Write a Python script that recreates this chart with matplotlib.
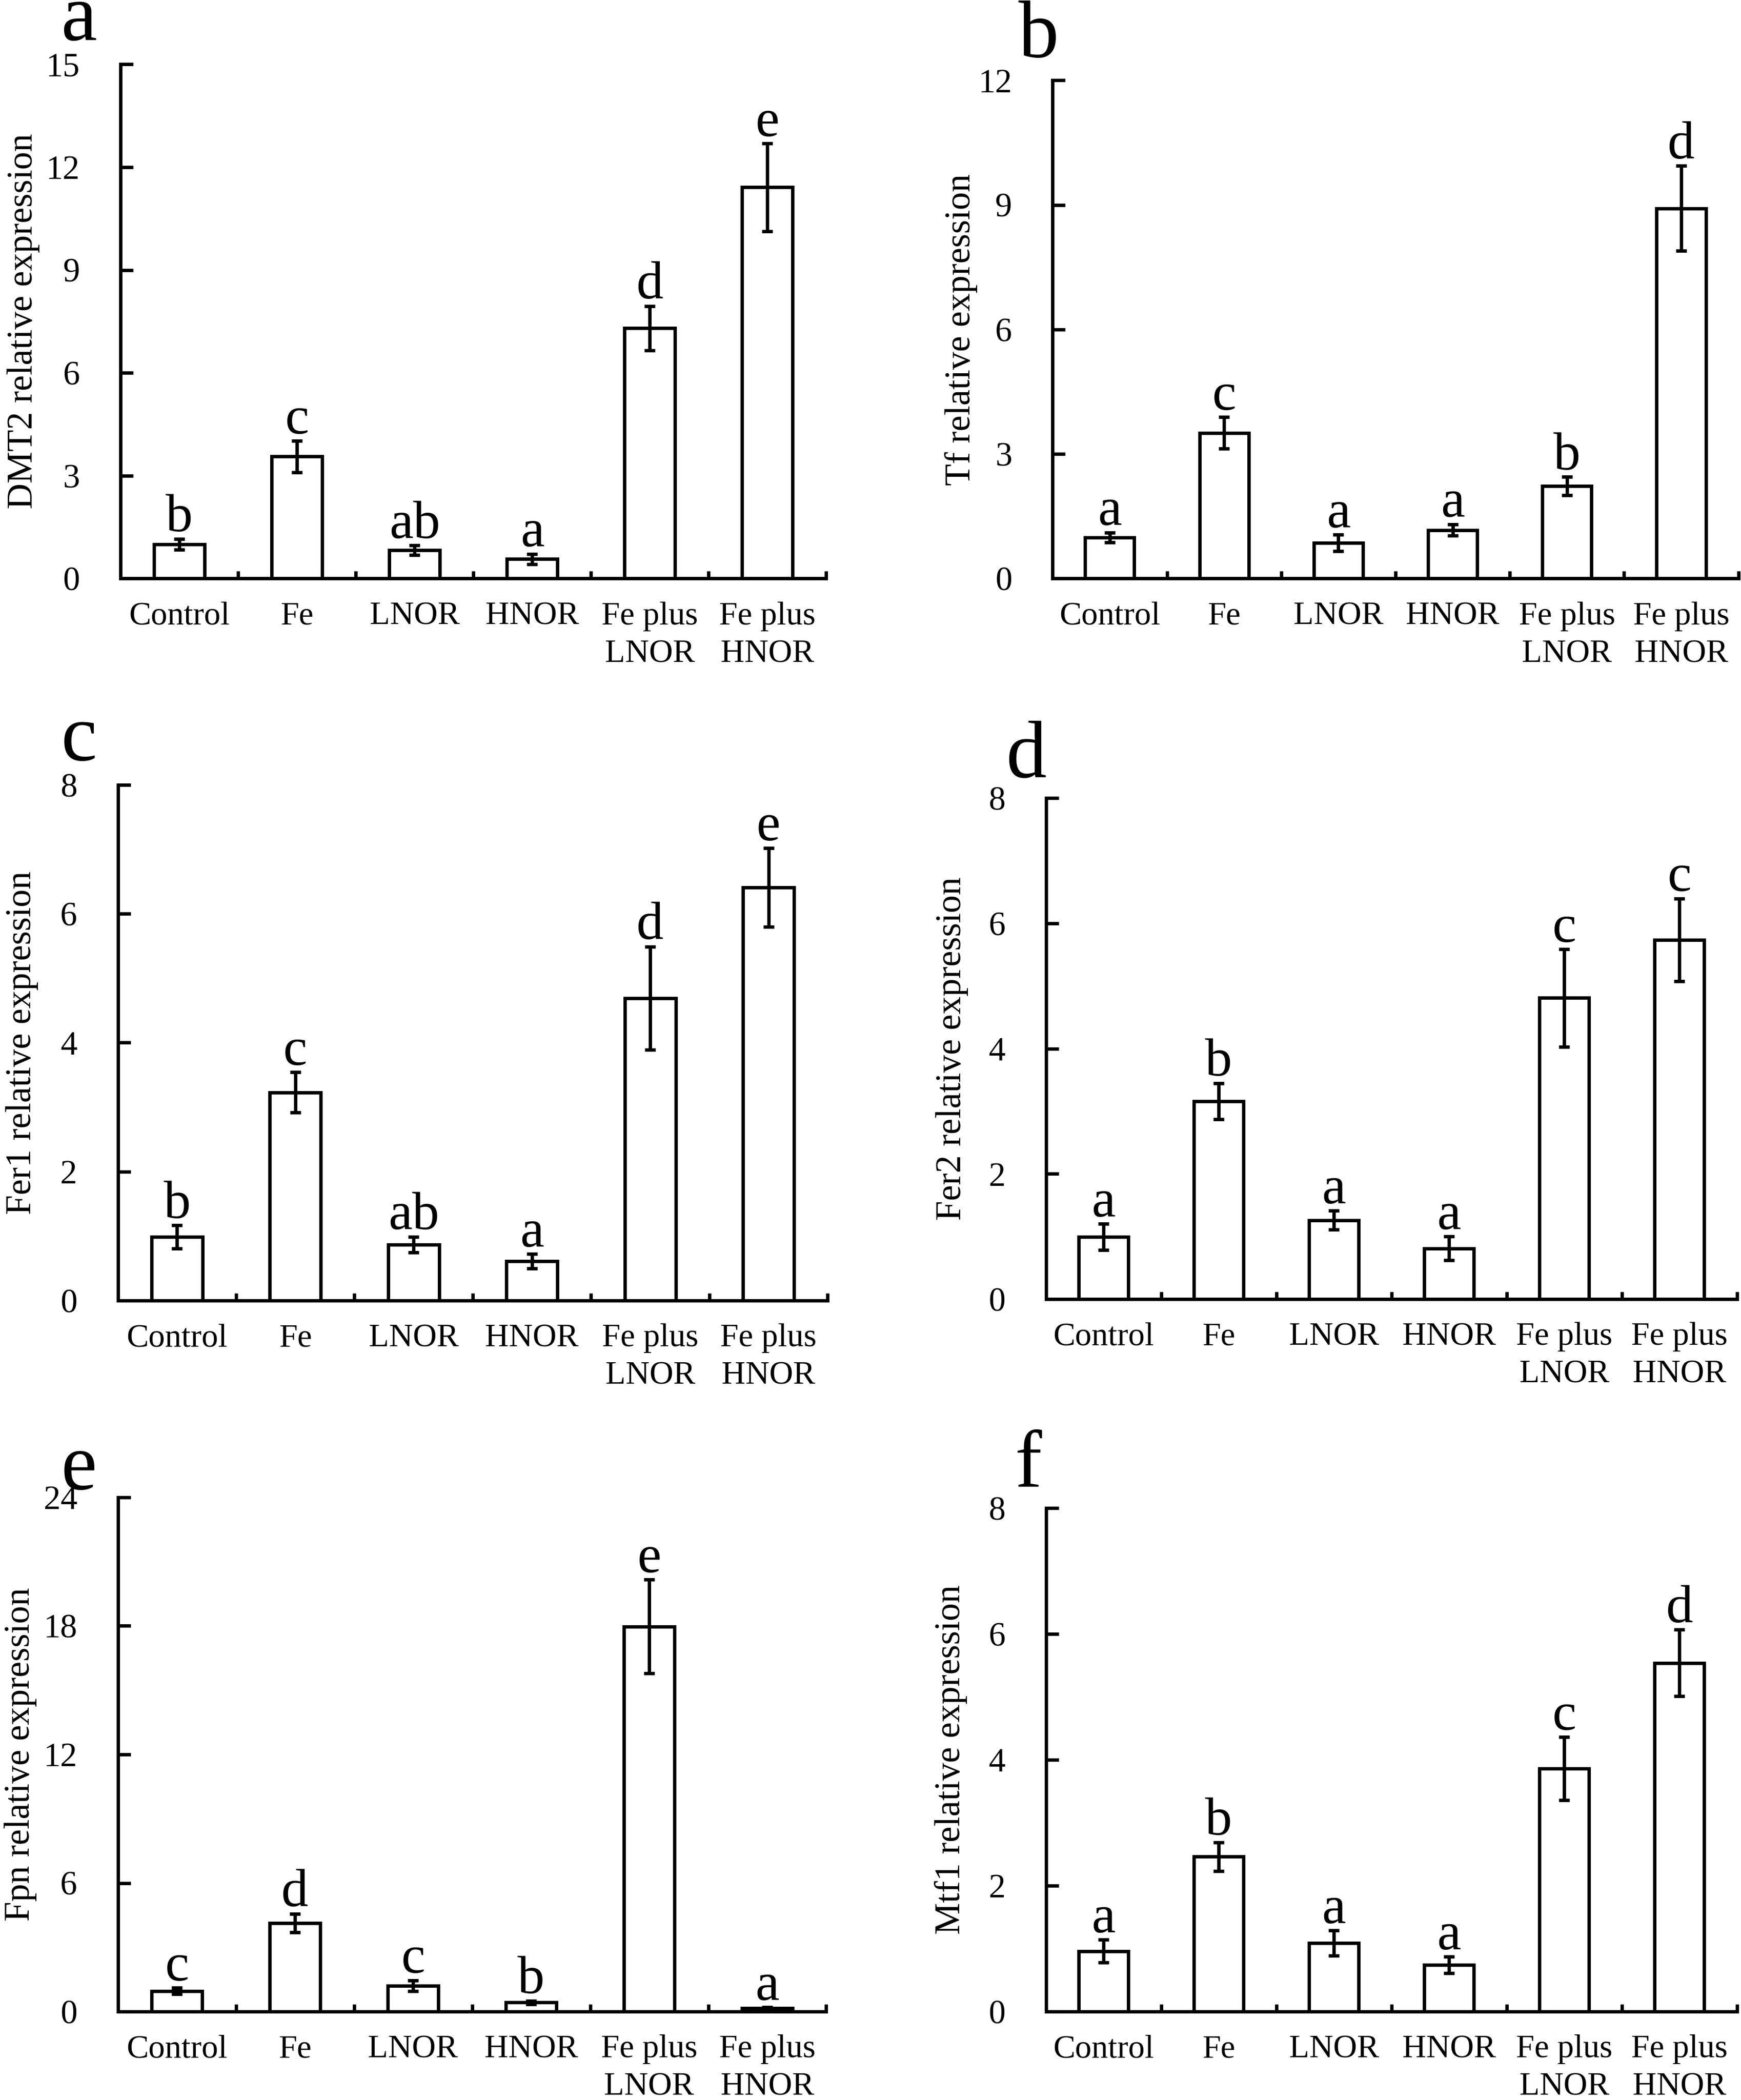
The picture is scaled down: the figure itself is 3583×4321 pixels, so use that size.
import matplotlib
matplotlib.use('Agg')
import matplotlib.pyplot as plt
import numpy as np

plt.rcParams['font.family'] = ['Liberation Serif', 'DejaVu Serif']

groups = ['Control', 'Fe', 'LNOR', 'HNOR', 'Fe plus\nLNOR', 'Fe plus\nHNOR']

# relative expression (mean) and error (SD)
dmt2 = [1.0, 3.56, 0.83, 0.57, 7.30, 11.41]
dmt2_err = [0.16, 0.46, 0.14, 0.15, 0.65, 1.28]
dmt2_sig = ['b', 'c', 'ab', 'a', 'd', 'e']

tf = [0.99, 3.51, 0.86, 1.17, 2.23, 8.92]
tf_err = [0.12, 0.38, 0.20, 0.14, 0.22, 1.02]
tf_sig = ['a', 'c', 'a', 'a', 'b', 'd']

fer1 = [0.99, 3.23, 0.87, 0.61, 4.69, 6.41]
fer1_err = [0.18, 0.31, 0.12, 0.11, 0.80, 0.61]
fer1_sig = ['b', 'c', 'ab', 'a', 'd', 'e']

fer2 = [0.99, 3.16, 1.26, 0.81, 4.81, 5.74]
fer2_err = [0.21, 0.29, 0.15, 0.19, 0.78, 0.66]
fer2_sig = ['a', 'b', 'a', 'a', 'c', 'c']

fpn = [0.96, 4.14, 1.21, 0.43, 17.97, 0.16]
fpn_err = [0.15, 0.43, 0.25, 0.08, 2.19, 0.05]
fpn_sig = ['c', 'd', 'c', 'b', 'e', 'a']

mtf1 = [0.96, 2.46, 1.09, 0.74, 3.86, 5.54]
mtf1_err = [0.18, 0.23, 0.20, 0.13, 0.50, 0.53]
mtf1_sig = ['a', 'b', 'a', 'a', 'c', 'd']

panels = [
    ('a', 'DMT2 relative expression', dmt2, dmt2_err, dmt2_sig, 15, 3,
     [0.0692, 0.7245, 0.4054, 0.2449], (0.035, 0.981), -0.114),
    ('b', 'Tf relative expression', tf, tf_err, tf_sig, 12, 3,
     [0.6046, 0.7245, 0.3939, 0.2372], (0.585, 0.973), -0.109),
    ('c', 'Fer1 relative expression', fer1, fer1_err, fer1_sig, 8, 2,
     [0.0677, 0.3807, 0.4077, 0.2456], (0.035, 0.638), -0.112),
    ('d', 'Fer2 relative expression', fer2, fer2_err, fer2_sig, 8, 2,
     [0.6008, 0.3814, 0.3969, 0.2385], (0.578, 0.630), -0.112),
    ('e', 'Fpn relative expression', fpn, fpn_err, fpn_sig, 24, 6,
     [0.0677, 0.0421, 0.4069, 0.2449], (0.035, 0.291), -0.114),
    ('f', 'Mtf1 relative expression', mtf1, mtf1_err, mtf1_sig, 8, 2,
     [0.6008, 0.0421, 0.3969, 0.2398], (0.583, 0.292), -0.114),
]

fig = plt.figure(figsize=(35.83, 43.21), dpi=100)
x = np.arange(len(groups))
lw = 5

for letter, ylab, vals, errs, sig, ymax, step, rect, lpos, ylx in panels:
    ax = fig.add_axes(rect)
    ax.bar(x, vals, width=0.43, color='white', edgecolor='black', linewidth=lw,
           zorder=2)
    ax.errorbar(x, vals, yerr=errs, fmt='none', ecolor='black', elinewidth=lw,
                capsize=8, capthick=lw, zorder=3)
    for xi, v, e, s in zip(x, vals, errs, sig):
        ax.annotate(s, (xi, v + e), xytext=(0, 11), textcoords='offset points',
                    ha='center', va='baseline', fontsize=80)
    ax.set_xlim(-0.5, 5.5)
    ax.set_ylim(0, ymax)
    ax.set_yticks(np.arange(0, ymax + 0.01, step))
    ax.set_xticks(x)
    ax.set_xticklabels(groups, linespacing=1.35)
    ax.set_xticks(np.arange(0.5, 6, 1), minor=True)
    ax.tick_params(axis='x', which='major', length=0, labelsize=49, pad=34)
    ax.tick_params(axis='x', which='minor', direction='in', length=11, width=lw)
    ax.tick_params(axis='y', direction='in', length=19, width=lw,
                   labelsize=50, pad=60)
    for sp in ['top', 'right']:
        ax.spines[sp].set_visible(False)
    for sp in ['left', 'bottom']:
        ax.spines[sp].set_linewidth(lw)
    ax.set_ylabel(ylab, fontsize=53)
    ax.yaxis.set_label_coords(ylx, 0.5)
    fig.text(lpos[0], lpos[1], letter, fontsize=120, ha='left', va='baseline')

fig.savefig('out.png', dpi=100)
